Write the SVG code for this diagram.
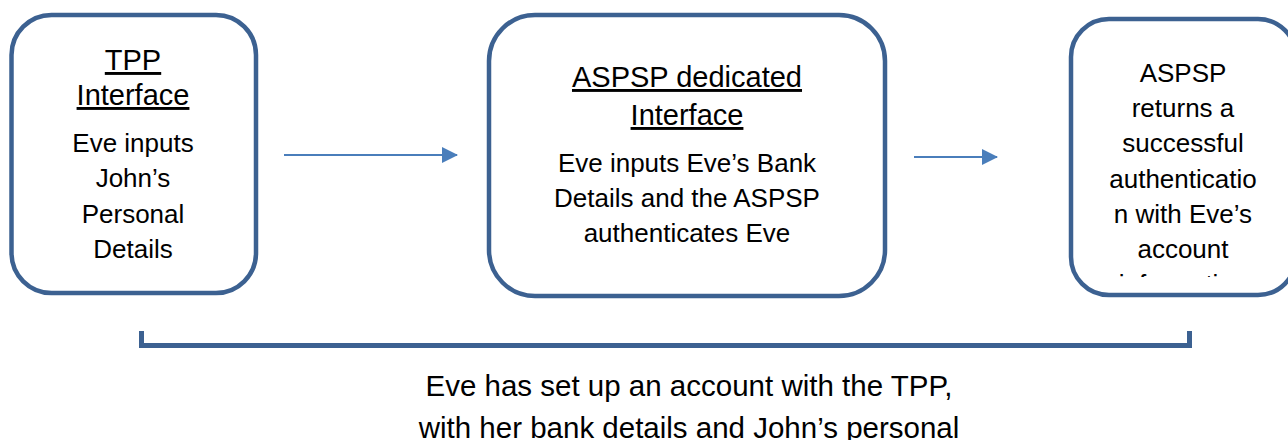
<svg xmlns="http://www.w3.org/2000/svg" width="1288" height="440" viewBox="0 0 1288 440">
  <style>
    .box { fill: #ffffff; stroke: #3C6191; stroke-width: 4.5; }
    .t { font-family: "Liberation Sans", Arial, sans-serif; fill: #000000; text-anchor: middle; }
    .title { font-size: 29px; text-decoration: underline; }
    .body { font-size: 26px; }
    .note { font-size: 29.5px; }
    .conn { stroke: #4A7EBB; stroke-width: 2; fill: none; }
    .bracket { stroke: #3C6191; stroke-width: 5; fill: none; }
  </style>
  <defs>
    <marker id="arrow" markerWidth="16" markerHeight="16" refX="15" refY="8" orient="auto" markerUnits="userSpaceOnUse">
      <path d="M0,0 L16,8 L0,16 Z" fill="#4A7EBB"/>
    </marker>
    <clipPath id="clipRight">
      <rect x="1071" y="19" width="230" height="258"/>
    </clipPath>
  </defs>
  <rect width="1288" height="440" fill="#ffffff"/>

  <g id="node-tpp">
    <rect class="box" x="11.5" y="15" width="244.5" height="278" rx="40" ry="40"/>
    <text class="t title" x="133" y="70">TPP</text>
    <text class="t title" x="133" y="105">Interface</text>
    <text class="t body" x="133" y="152">Eve inputs</text>
    <text class="t body" x="133" y="187">John’s</text>
    <text class="t body" x="133" y="223">Personal</text>
    <text class="t body" x="133" y="258">Details</text>
  </g>

  <g id="node-aspsp-interface">
    <rect class="box" x="489" y="15" width="396" height="281" rx="46" ry="46"/>
    <text class="t title" x="687" y="87">ASPSP dedicated</text>
    <text class="t title" x="687" y="125">Interface</text>
    <text class="t body" x="687" y="172">Eve inputs Eve’s Bank</text>
    <text class="t body" x="687" y="207">Details and the ASPSP</text>
    <text class="t body" x="687" y="242">authenticates Eve</text>
  </g>

  <g id="node-aspsp-returns">
    <rect class="box" x="1071" y="19" width="225" height="276" rx="38" ry="38"/>
    <g clip-path="url(#clipRight)">
      <text class="t body" x="1183" y="82">ASPSP</text>
      <text class="t body" x="1183" y="117">returns a</text>
      <text class="t body" x="1183" y="152">successful</text>
      <text class="t body" x="1183" y="188">authenticatio</text>
      <text class="t body" x="1183" y="223">n with Eve’s</text>
      <text class="t body" x="1183" y="258">account</text>
      <text class="t body" x="1183" y="293">information</text>
    </g>
  </g>

  <g id="connectors">
    <line class="conn" x1="284" y1="155" x2="457" y2="155" marker-end="url(#arrow)"/>
    <line class="conn" x1="914" y1="157" x2="997" y2="157" marker-end="url(#arrow)"/>
    <path class="bracket" d="M141.5,331 L141.5,345.5 L1189.5,345.5 L1189.5,331"/>
  </g>

  <g id="note">
    <text class="t note" x="689" y="396">Eve has set up an account with the TPP,</text>
    <text class="t note" x="689" y="438">with her bank details and John’s personal</text>
  </g>
</svg>
